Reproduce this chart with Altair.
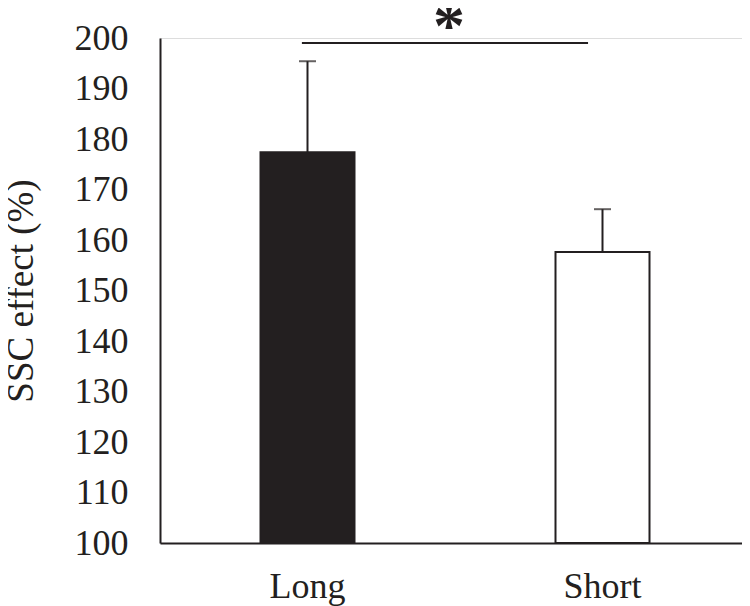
import altair as alt
import pandas as pd

categories = ["Long", "Short"]
means = [177.4, 157.6]
upper = [195.4, 166.1]
fills = ["#231f20", "#ffffff"]
y_ticks = [100, 110, 120, 130, 140, 150, 160, 170, 180, 190, 200]

sig_from, sig_to, sig_y = "Long", "Short", 199.0
star_text, star_y = "*", 198.2

INK = "#231f20"
FONT = "Liberation Serif"

df = pd.DataFrame({"group": categories, "mean": means, "upper": upper,
                   "fill": fills, "base": [100] * len(categories)})
sig = pd.DataFrame({"a": [sig_from], "b": [sig_to], "y": [sig_y],
                    "t": [star_text], "ty": [star_y]})

xscale = alt.Scale(domain=categories, paddingInner=0, paddingOuter=0, range=[0, 590])
yscale = alt.Scale(domain=[100, 200], zero=False, nice=False)

x_enc = alt.X("group:N", scale=xscale, sort=categories,
              axis=alt.Axis(title=None, labelAngle=0, labelFontSize=36, labelFont=FONT,
                            labelColor=INK, labelPadding=26, ticks=False, tickSize=0,
                            domainColor=INK, domainWidth=2))
y_axis = alt.Axis(values=y_ticks, title="SSC effect (%)", titleFont=FONT, titleFontSize=37,
                  titleFontWeight="normal", titleColor=INK, titlePadding=34,
                  labelFont=FONT, labelFontSize=36, labelColor=INK, labelPadding=32,
                  ticks=False, tickSize=0, grid=False, domainColor=INK, domainWidth=2)

bars = alt.Chart(df).mark_bar(size=94, stroke=INK, strokeWidth=2).encode(
    x=x_enc,
    y=alt.Y("mean:Q", scale=yscale, axis=y_axis),
    y2="base:Q",
    fill=alt.Fill("fill:N", scale=None),
)

err = alt.Chart(df).mark_rule(color=INK, strokeWidth=2).encode(
    x=alt.X("group:N", scale=xscale, sort=categories),
    y=alt.Y("mean:Q", scale=yscale),
    y2="upper:Q",
)

caps = alt.Chart(df).mark_tick(color=INK, thickness=2, size=17).encode(
    x=alt.X("group:N", scale=xscale, sort=categories),
    y=alt.Y("upper:Q", scale=yscale),
)

sig_line = alt.Chart(sig).mark_rule(color=INK, strokeWidth=2, clip=False).encode(
    x=alt.X("a:N", scale=xscale, bandPosition=0.481),
    x2=alt.X2("b:N", bandPosition=0.451),
    y=alt.Y("y:Q", scale=yscale),
)

star = alt.Chart(sig).mark_text(font=FONT, fontSize=64, fontWeight="bold", color=INK,
                                 baseline="alphabetic", align="center", clip=False).encode(
    x=alt.X("a:N", scale=xscale, bandPosition=0.98),
    y=alt.Y("ty:Q", scale=yscale),
    text="t:N",
)

chart = alt.layer(bars, err, caps, sig_line, star).properties(
    width=582, height=505,
    autosize=alt.AutoSizeParams(type="none"),
    padding={"left": 152, "top": 30, "right": 0, "bottom": 63},
).configure_view(stroke=None).configure(background="white")

chart.save("out.html", embed_options={"renderer": "svg", "actions": False})
